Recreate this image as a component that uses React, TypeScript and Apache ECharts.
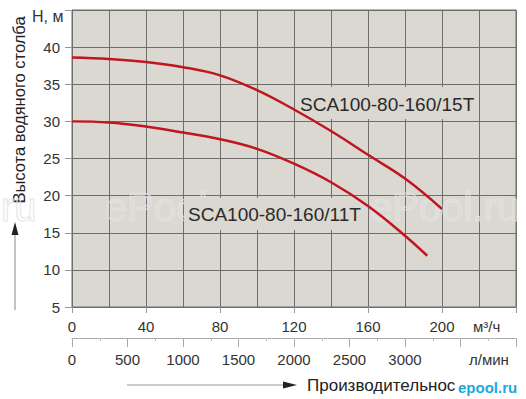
import React, { useEffect, useRef } from "react";
import * as echarts from "echarts";

const FONT = "'Liberation Sans', Arial, sans-serif";

// Flow, m³/h
const flow15T = [0, 20, 40, 60, 80, 100, 120, 140, 160, 180, 200];
const head15T = [38.6, 38.4, 38.0, 37.3, 36.2, 34.2, 31.6, 28.7, 25.5, 22.3, 18.2];
const flow11T = [0, 20, 40, 60, 80, 100, 120, 140, 160, 180, 192];
const head11T = [30.0, 29.85, 29.3, 28.5, 27.6, 26.3, 24.3, 21.8, 18.6, 14.6, 11.9];

const seriesNames = ["SCA100-80-160/15T", "SCA100-80-160/11T"];
const xTicksM3h = [0, 40, 80, 120, 160, 200];
const xTicksLmin = [0, 500, 1000, 1500, 2000, 2500, 3000];
const yTicks = [5, 10, 15, 20, 25, 30, 35, 40];

const GRID_COLOR = "#6e6e6e";
const CURVE_COLOR = "#c0161e";

export default function App() {
  const ref = useRef<HTMLDivElement>(null);
  useEffect(() => {
    if (!ref.current) return;
    const chart = echarts.init(ref.current, null, { renderer: "svg" });
    const pair = (xs: number[], ys: number[]) => xs.map((x, i) => [x, ys[i]]);
    const watermark = (x: number, text: string) => ({
      type: "text",
      z: 1,
      x,
      y: 207,
      silent: true,
      style: {
        text,
        fontSize: 40,
        fontFamily: FONT,
        fill: "rgba(255,255,255,0.12)",
        stroke: "rgba(225,225,225,0.8)",
        lineWidth: 1.2,
        verticalAlign: "middle",
        align: "left",
      },
    });
    const option: any = {
      animation: false,
      grid: {
        left: 72,
        right: 10,
        top: 10,
        bottom: 92,
        show: true,
        backgroundColor: "#dbd7d1",
        borderColor: GRID_COLOR,
        borderWidth: 1,
      },
      xAxis: [
        {
          type: "value",
          min: 0,
          max: 240,
          interval: 40,
          position: "bottom",
          axisLine: { show: true, lineStyle: { color: GRID_COLOR } },
          axisTick: { show: true, length: 6, lineStyle: { color: "#999" } },
          axisLabel: {
            formatter: (v: number) => (xTicksM3h.includes(v) ? String(v) : ""),
            fontSize: 15,
            color: "#333",
            margin: 12,
            fontFamily: FONT,
          },
          splitLine: { show: true, lineStyle: { color: GRID_COLOR, width: 1 } },
          minorTick: { show: false, splitNumber: 2 },
          minorSplitLine: { show: true, lineStyle: { color: GRID_COLOR, width: 1 } },
        },
        {
          type: "value",
          min: 0,
          max: 4000,
          interval: 500,
          position: "bottom",
          offset: 31,
          axisLine: { show: true, lineStyle: { color: "#999", type: "dotted" } },
          axisTick: { show: true, length: 9, lineStyle: { color: "#aaa" } },
          minorTick: { show: true, splitNumber: 2, length: 3, lineStyle: { color: "#bbb" } },
          axisLabel: {
            formatter: (v: number) => (xTicksLmin.includes(v) ? String(v) : ""),
            fontSize: 15,
            color: "#333",
            margin: 14,
            fontFamily: FONT,
          },
          splitLine: { show: false },
        },
      ],
      yAxis: {
        type: "value",
        min: 5,
        max: 45,
        interval: 5,
        axisLine: { show: true, lineStyle: { color: GRID_COLOR } },
        axisTick: { show: true, length: 7, lineStyle: { color: "#999" } },
        axisLabel: {
          formatter: (v: number) => (yTicks.includes(v) ? String(v) : ""),
          fontSize: 15,
          color: "#333",
          margin: 12,
          fontFamily: FONT,
        },
        splitLine: { show: true, lineStyle: { color: GRID_COLOR, width: 1 } },
      },
      series: [
        {
          name: seriesNames[0],
          type: "line",
          smooth: 0.4,
          showSymbol: false,
          z: 5,
          xAxisIndex: 0,
          data: pair(flow15T, head15T),
          lineStyle: { color: CURVE_COLOR, width: 2.5 },
        },
        {
          name: seriesNames[1],
          type: "line",
          smooth: 0.4,
          showSymbol: false,
          z: 5,
          xAxisIndex: 0,
          data: pair(flow11T, head11T),
          lineStyle: { color: CURVE_COLOR, width: 2.5 },
        },
      ],
      graphic: [
        watermark(1, "ru"),
        watermark(105, "ePool.ru"),
        watermark(370, "ePool.ru"),
        {
          type: "rect",
          z: 2,
          shape: { x: 296, y: 87, width: 181, height: 32 },
          style: { fill: "#dbd7d1" },
        },
        {
          type: "text",
          z: 3,
          x: 300,
          y: 104,
          style: {
            text: seriesNames[0],
            fontSize: 19,
            fontFamily: FONT,
            fill: "#2a2a2a",
            verticalAlign: "middle",
          },
        },
        {
          type: "rect",
          z: 2,
          shape: { x: 184, y: 198, width: 182, height: 32 },
          style: { fill: "#dbd7d1" },
        },
        {
          type: "text",
          z: 3,
          x: 188,
          y: 214,
          style: {
            text: seriesNames[1],
            fontSize: 19,
            fontFamily: FONT,
            fill: "#2a2a2a",
            verticalAlign: "middle",
          },
        },
        {
          type: "text",
          x: 32,
          y: 16,
          style: { text: "Н, м", fontSize: 16, fontFamily: FONT, fill: "#333", verticalAlign: "middle" },
        },
        {
          type: "text",
          x: 473,
          y: 326,
          style: { text: "м³/ч", fontSize: 15, fontFamily: FONT, fill: "#333", verticalAlign: "middle" },
        },
        {
          type: "text",
          x: 469,
          y: 359,
          style: { text: "л/мин", fontSize: 15, fontFamily: FONT, fill: "#333", verticalAlign: "middle" },
        },
        {
          type: "text",
          x: 19,
          y: 110,
          rotation: Math.PI / 2,
          style: {
            text: "Высота водяного столба",
            fontSize: 16.5,
            fontFamily: FONT,
            fill: "#222",
            align: "center",
            verticalAlign: "middle",
          },
        },
        {
          type: "line",
          shape: { x1: 15, y1: 310, x2: 15, y2: 234 },
          style: { stroke: "#888", lineWidth: 1 },
        },
        {
          type: "polygon",
          shape: { points: [[15, 222], [11.5, 235], [18.5, 235]] },
          style: { fill: "#222" },
        },
        {
          type: "line",
          shape: { x1: 127, y1: 385, x2: 284, y2: 385 },
          style: { stroke: "#999", lineWidth: 1 },
        },
        {
          type: "polygon",
          shape: { points: [[297, 385], [283, 381.5], [283, 388.5]] },
          style: { fill: "#222" },
        },
        {
          type: "text",
          x: 307,
          y: 385,
          style: {
            text: "Производительность",
            fontSize: 17,
            fontFamily: FONT,
            fill: "#222",
            verticalAlign: "middle",
          },
        },
        {
          type: "rect",
          z: 10,
          shape: { x: 455, y: 378, width: 68, height: 17 },
          style: { fill: "#ffffff" },
        },
        {
          type: "text",
          z: 11,
          x: 458,
          y: 387,
          style: {
            text: "epool.ru",
            fontSize: 15,
            fontWeight: "bold",
            fontFamily: FONT,
            fill: "#19a9dc",
            verticalAlign: "middle",
          },
        },
      ],
    };
    chart.setOption(option);
    return () => chart.dispose();
  }, []);
  return (
    <div
      ref={ref}
      style={{ position: "fixed", left: 0, top: 0, width: 526, height: 399, background: "#fff" }}
    />
  );
}
